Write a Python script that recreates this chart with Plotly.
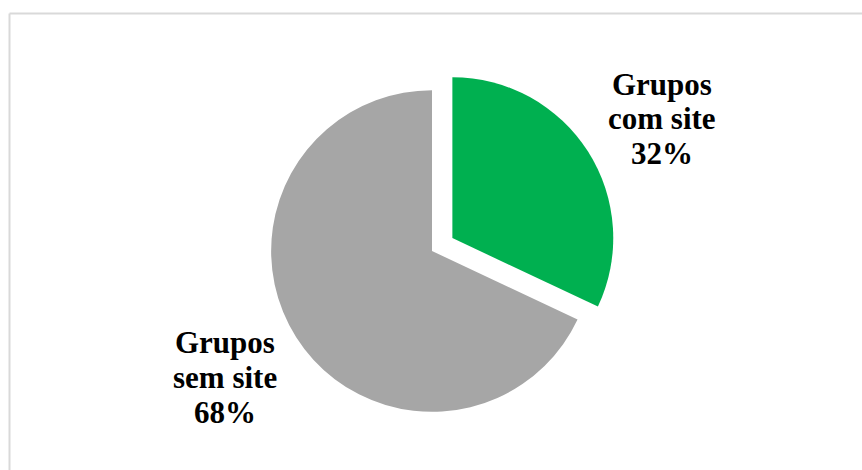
import plotly.graph_objects as go

# Share of groups with / without a website
categories = ["Grupos com site", "Grupos sem site"]
values = [32, 68]
colors = ["#00B050", "#A6A6A6"]
pulls = [0.15, 0]

W, H = 862, 470
FONT = dict(family="Liberation Serif, Times New Roman, serif", size=31, color="#000000")


def px(x):
    return x / W


def py(y):
    return 1 - y / H


fig = go.Figure(
    go.Pie(
        labels=categories,
        values=values,
        marker=dict(colors=colors, line=dict(width=0)),
        pull=pulls,
        sort=False,
        direction="clockwise",
        rotation=0,
        textinfo="none",
        hoverinfo="label+percent",
        showlegend=False,
        domain=dict(x=[px(247), px(617)], y=[py(436), py(66)]),
    )
)

# Labels: category name split over two lines plus the percentage
label_lines = [
    ["Grupos", "com site", f"{values[0]}%"],
    ["Grupos", "sem site", f"{values[1]}%"],
]
label_pos = [(662, 84), (225, 342)]  # centre x, first line centre y
line_step = 35

annotations = []
for lines, (cx, cy) in zip(label_lines, label_pos):
    for i, txt in enumerate(lines):
        annotations.append(
            dict(
                text=f"<b>{txt}</b>",
                x=px(cx),
                y=py(cy + i * line_step),
                xref="paper",
                yref="paper",
                xanchor="center",
                yanchor="middle",
                showarrow=False,
                font=FONT,
            )
        )

# Chart frame (top and left edges visible)
frame = dict(color="#D9D9D9", width=2)
shapes = [
    dict(type="line", xref="paper", yref="paper",
         x0=px(9.5), x1=1.02, y0=py(13.5), y1=py(13.5), line=frame),
    dict(type="line", xref="paper", yref="paper",
         x0=px(9.5), x1=px(9.5), y0=py(13.5), y1=-0.02, line=frame),
]

fig.update_layout(
    width=W,
    height=H,
    autosize=False,
    margin=dict(l=0, r=0, t=0, b=0),
    paper_bgcolor="#FFFFFF",
    plot_bgcolor="#FFFFFF",
    annotations=annotations,
    shapes=shapes,
)

fig.write_html("out.html")
